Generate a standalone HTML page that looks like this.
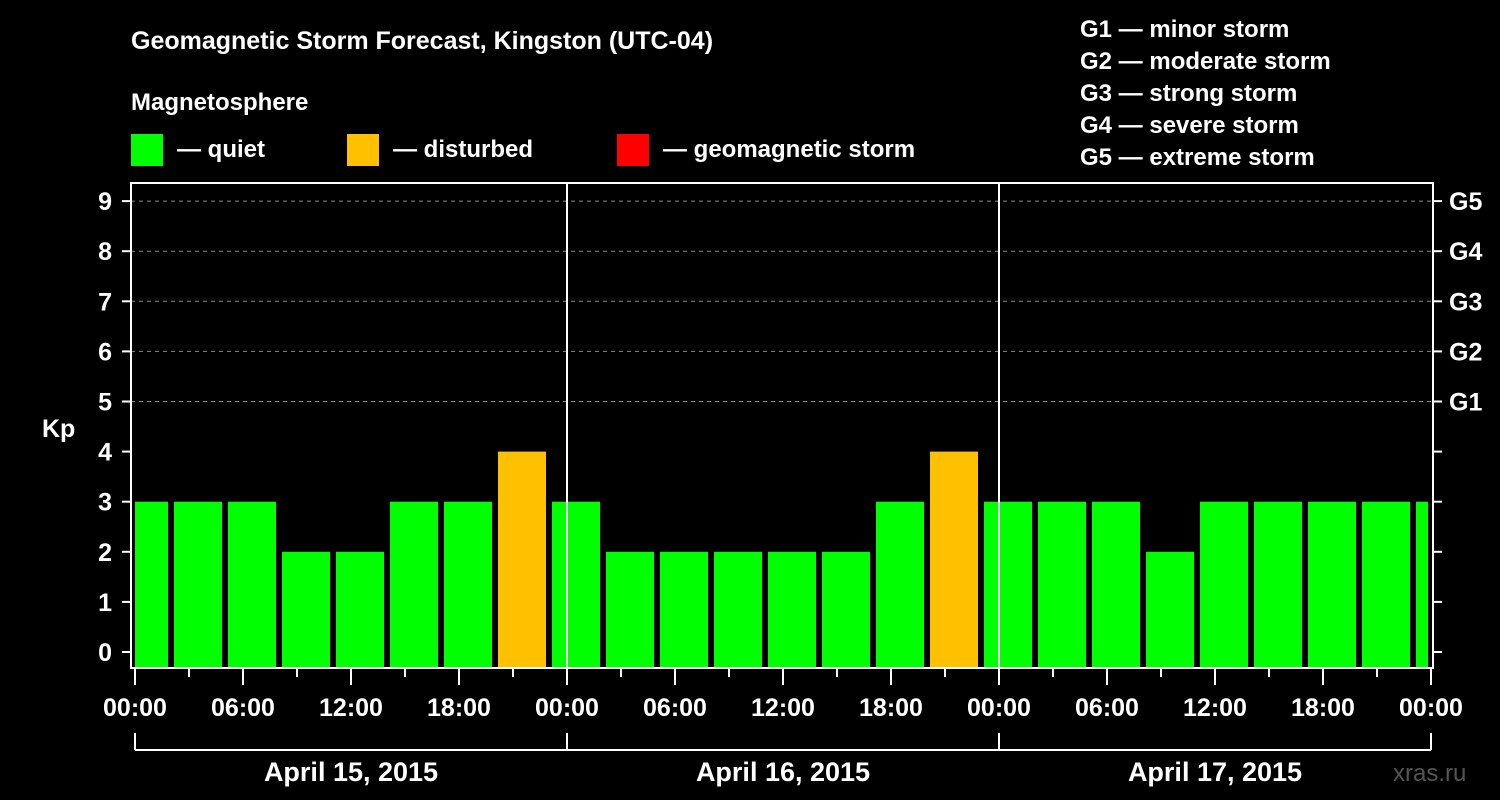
<!DOCTYPE html>
<html><head><meta charset="utf-8">
<style>
html,body{margin:0;padding:0;background:#000;}
svg{display:block;font-family:"Liberation Sans",Arial,sans-serif;font-weight:bold;}
</style></head>
<body>
<svg id="c" width="1500" height="800" viewBox="0 0 1500 800">
<rect width="1500" height="800" fill="#000"/>
<text x="131" y="49" fill="#fff" font-size="25">Geomagnetic Storm Forecast, Kingston (UTC-04)</text>
<text x="131" y="110" fill="#fff" font-size="24">Magnetosphere</text>
<g><rect x="131" y="134" width="32" height="32" fill="#00ff00"/><text x="177" y="157" fill="#fff" font-size="24">— quiet</text></g>
<g><rect x="347" y="134" width="32" height="32" fill="#ffc000"/><text x="393" y="157" fill="#fff" font-size="24">— disturbed</text></g>
<g><rect x="617" y="134" width="32" height="32" fill="#ff0000"/><text x="663" y="157" fill="#fff" font-size="24">— geomagnetic storm</text></g>
<g fill="#fff" font-size="24">
<text x="1080" y="37">G1 — minor storm</text>
<text x="1080" y="69">G2 — moderate storm</text>
<text x="1080" y="101">G3 — strong storm</text>
<text x="1080" y="133">G4 — severe storm</text>
<text x="1080" y="165">G5 — extreme storm</text>
</g>
<text x="42" y="437" fill="#fff" font-size="25">Kp</text>
<text x="1393" y="781" fill="#555" font-size="24" font-weight="normal">xras.ru</text>
<g id="plot"></g>
</svg>
<script>
const kpValues=[3,3,3,2,2,3,3,4,3,2,2,2,2,2,3,4,3,3,3,2,3,3,3,3,3];
const yTicks=[0,1,2,3,4,5,6,7,8,9];
const gLabels=["G1","G2","G3","G4","G5"];
const xTickLabels=["00:00","06:00","12:00","18:00","00:00","06:00","12:00","18:00","00:00","06:00","12:00","18:00","00:00"];
const dayLabels=["April 15, 2015","April 16, 2015","April 17, 2015"];

const NS="http://www.w3.org/2000/svg";
const g=document.getElementById('plot');
const L=131,R=1433,T=183,B=668;
const x0=135,pxH=18;
const xs=h=>x0+h*pxH;
const ys=v=>652-v*50.1;
function el(tag,attrs,text){const e=document.createElementNS(NS,tag);for(const k in attrs)e.setAttribute(k,attrs[k]);if(text!==undefined)e.textContent=text;g.appendChild(e);return e;}
// clip
const defs=el('defs',{});
const cp=document.createElementNS(NS,'clipPath');cp.setAttribute('id','pc');
const cr=document.createElementNS(NS,'rect');cr.setAttribute('x',L+4);cr.setAttribute('y',T);cr.setAttribute('width',1428-(L+4));cr.setAttribute('height',B-T);
cp.appendChild(cr);defs.appendChild(cp);
// grid dashed
yTicks.forEach(v=>{if(v>=5){const d=el('line',{x1:L,x2:R,y1:ys(v),y2:ys(v),stroke:'#888','stroke-dasharray':'4,4','stroke-width':1});
}});
// bars
const bg=document.createElementNS(NS,'g');bg.setAttribute('clip-path','url(#pc)');g.appendChild(bg);
kpValues.forEach((v,i)=>{const c=xs(3*i+0.5);const r=document.createElementNS(NS,'rect');
r.setAttribute('x',c-24);r.setAttribute('width',48);r.setAttribute('y',ys(v));r.setAttribute('height',B-ys(v));
r.setAttribute('fill',v>=5?'#ff0000':(v>=4?'#ffc000':'#00ff00'));


bg.appendChild(r);});
// day separators
[1,2].forEach(d=>{const s=el('line',{x1:xs(24*d),x2:xs(24*d),y1:T,y2:B,stroke:'#fff','stroke-width':2});
});
// frame
const f=el('rect',{x:L,y:T,width:R-L,height:B-T,fill:'none',stroke:'#fff','stroke-width':2});

// y ticks
yTicks.forEach(v=>{el('line',{x1:L-9,x2:L,y1:ys(v),y2:ys(v),stroke:'#fff','stroke-width':2});
el('line',{x1:R,x2:R+9,y1:ys(v),y2:ys(v),stroke:'#fff','stroke-width':2});
const t=el('text',{x:112,y:ys(v)+9,fill:'#fff','font-size':25,'text-anchor':'end'},String(v));
});
gLabels.forEach((s,i)=>{const t=el('text',{x:1449,y:ys(5+i)+9,fill:'#fff','font-size':25},s);
});
// x ticks
for(let h=0;h<=72;h+=3){const major=h%6===0;el('line',{x1:xs(h),x2:xs(h),y1:B,y2:B+(major?17:9),stroke:'#fff','stroke-width':2});}
xTickLabels.forEach((s,i)=>{const t=el('text',{x:xs(6*i),y:716,fill:'#fff','font-size':25,'text-anchor':'middle'},s);
});
// day bracket
el('line',{x1:xs(0),x2:xs(72),y1:750,y2:750,stroke:'#fff','stroke-width':2});
for(let d=0;d<=3;d++)el('line',{x1:xs(24*d),x2:xs(24*d),y1:733,y2:750,stroke:'#fff','stroke-width':2});
dayLabels.forEach((s,i)=>{const t=el('text',{x:xs(24*i+12),y:781,fill:'#fff','font-size':27,'text-anchor':'middle'},s);
});
</script>
</body></html>
